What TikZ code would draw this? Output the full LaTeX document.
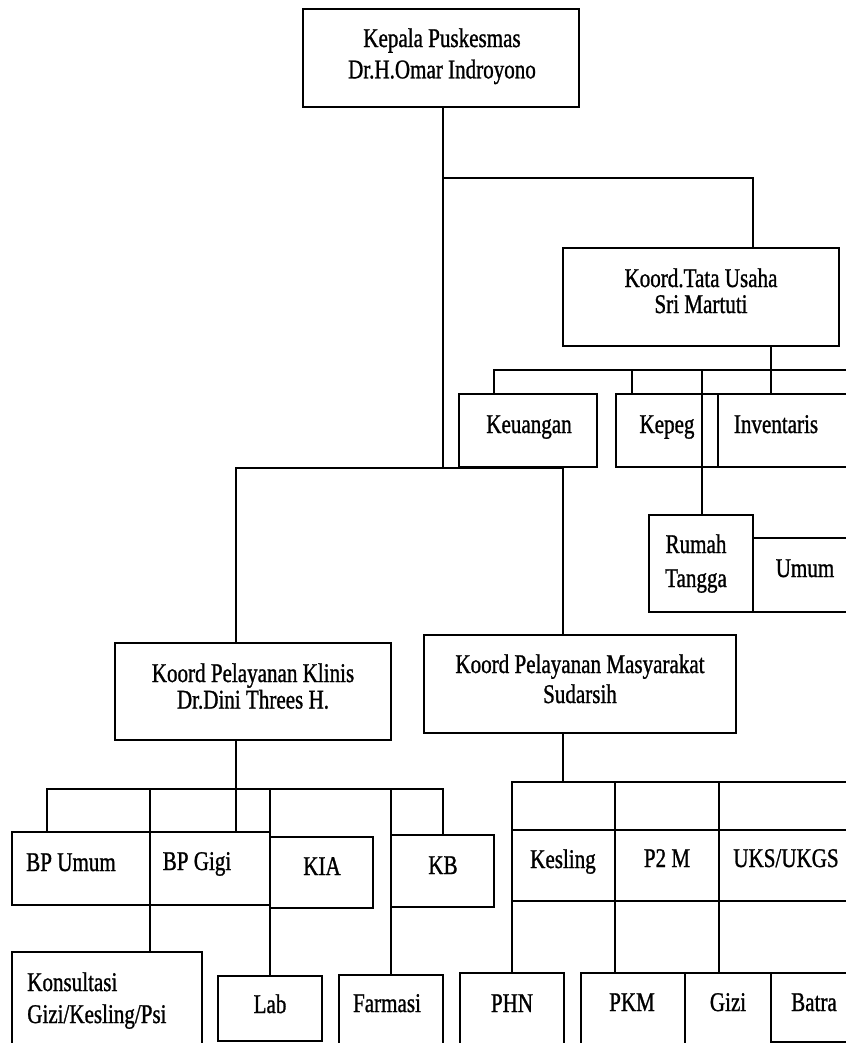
\documentclass[tikz,border=0pt]{standalone}
\usepackage{fontspec}
\setmainfont{Liberation Serif}[FakeStretch=0.78,FakeBold=1]
\newcommand\bx[5]{\node[box,minimum width={(#4-#2)*0.75pt},minimum height={(#5-#3)*0.75pt}] (#1) at ({(#2+#4)/2},{(#3+#5)/2}) {};}
\newcommand\twol[4]{\fontsize{20.25}{#1}\selectfont\begin{tabular}[t]{@{}#2@{}}#3\\#4\end{tabular}}
\begin{document}
\begin{tikzpicture}[x=0.75pt,y=-0.75pt,
  box/.style={draw,line width=1.3pt,inner sep=0pt},
  txt/.style={inner sep=0pt,anchor=base,font=\fontsize{20.25}{24}\selectfont},
  con/.style={line width=1.3pt}]
\useasboundingbox (0,0) rectangle (846,1043);
\fill[white] (0,0) rectangle (846,1043);
\clip (0,0) rectangle (846,1043);
% boxes
\bx{kepala}{303}{9}{579}{107}
\bx{tu}{563}{248}{839}{346}
\bx{keu}{459}{394}{597}{467}
\bx{kepeg}{616}{394}{718}{467}
\bx{inv}{718}{394}{880}{467}
\bx{rt}{649}{515}{753}{612}
\bx{umum}{753}{538}{880}{612}
\bx{klinis}{115}{643}{391}{740}
\bx{masy}{424}{635}{736}{733}
\bx{bpu}{12}{832}{150}{905}
\bx{bpg}{150}{832}{270}{905}
\bx{kia}{270}{837}{373}{908}
\bx{kb}{391}{835}{494}{907}
\bx{kons}{12}{952}{202}{1070}
\bx{lab}{218}{976}{322}{1041}
\bx{farm}{339}{975}{443}{1070}
\bx{kesl}{512}{830}{615}{901}
\bx{ptwo}{615}{830}{719}{901}
\bx{uks}{719}{830}{880}{901}
\bx{phn}{460}{973}{564}{1070}
\bx{pkm}{581}{973}{685}{1070}
\bx{gizi}{685}{973}{771}{1070}
\bx{batra}{771}{973}{880}{1042}
% texts
\node[txt] (kepala-t) at (442,47) {\twol{23.5pt}{c}{Kepala Puskesmas}{Dr.H.Omar Indroyono}};
\node[txt] (tu-t) at (701,287) {\twol{19.5pt}{c}{Koord.Tata Usaha}{Sri Martuti}};
\node[txt] (klinis-t) at (253,682) {\twol{19.5pt}{c}{Koord Pelayanan Klinis}{Dr.Dini Threes H.}};
\node[txt] (masy-t) at (580,673) {\twol{22.5pt}{c}{Koord Pelayanan Masyarakat}{Sudarsih}};
\node[txt] (rt-t) at (696,553) {\twol{25.5pt}{c}{Rumah}{Tangga}};
\node[txt,anchor=base west] (kons-t) at (27,991) {\twol{24pt}{l}{Konsultasi}{Gizi/Kesling/Psi}};
\node[txt] (keu-t) at (529,433) {Keuangan};
\node[txt] (kepeg-t) at (667,433) {Kepeg};
\node[txt] (inv-t) at (776,433) {Inventaris};
\node[txt] (umum-t) at (805,577) {Umum};
\node[txt] (bpu-t) at (71,871) {BP Umum};
\node[txt] (bpg-t) at (197,870) {BP Gigi};
\node[txt] (kia-t) at (322,875) {KIA};
\node[txt] (kb-t) at (443,874) {KB};
\node[txt] (kesl-t) at (563,868) {Kesling};
\node[txt] (ptwo-t) at (667,867) {P2 M};
\node[txt] (uks-t) at (786,867) {UKS/UKGS};
\node[txt] (lab-t) at (270,1013) {Lab};
\node[txt] (farm-t) at (387,1012) {Farmasi};
\node[txt] (phn-t) at (512,1012) {PHN};
\node[txt] (pkm-t) at (632,1011) {PKM};
\node[txt] (gizi-t) at (728,1011) {Gizi};
\node[txt] (batra-t) at (814,1011) {Batra};
% junctions
\coordinate (tuj) at (443,178);
\coordinate (kj) at (443,468);
\coordinate (tuend) at (880,370);
\coordinate (klj) at (236,789);
\coordinate (msend) at (880,782);
% connectors
\draw[con] (kepala.south -| kj) -- (kj);
\draw[con] (tuj) -| (tu.north -| 753,0);
\draw[con] (klinis.north -| 236,0) |- (kj) -| (masy.north -| 563,0);
% tata usaha
\draw[con] (tu.south -| 771,0) -- (inv.north -| 771,0);
\draw[con] (keu.north -| 494,0) |- (tuend);
\draw[con] (kepeg.north -| 632,0) -- (tuend -| 632,0);
\draw[con] (tuend -| 702,0) -- (rt.north -| 702,0);
% klinis
\draw[con] (klinis.south -| klj) -- (bpg.north -| klj);
\draw[con] (bpu.north -| 47,0) |- (klj -| 443,0) -- (kb.north -| 443,0);
\draw[con] (klj -| 150,0) -- (kons.north -| 150,0);
\draw[con] (klj -| 270,0) -- (lab.north -| 270,0);
\draw[con] (klj -| 391,0) -- (farm.north -| 391,0);
% masyarakat
\draw[con] (masy.south -| 563,0) -- (msend -| 563,0);
\draw[con] (phn.north -| 512,0) |- (msend);
\draw[con] (msend -| 615,0) -- (pkm.north -| 615,0);
\draw[con] (msend -| 719,0) -- (gizi.north -| 719,0);
\end{tikzpicture}
\end{document}
